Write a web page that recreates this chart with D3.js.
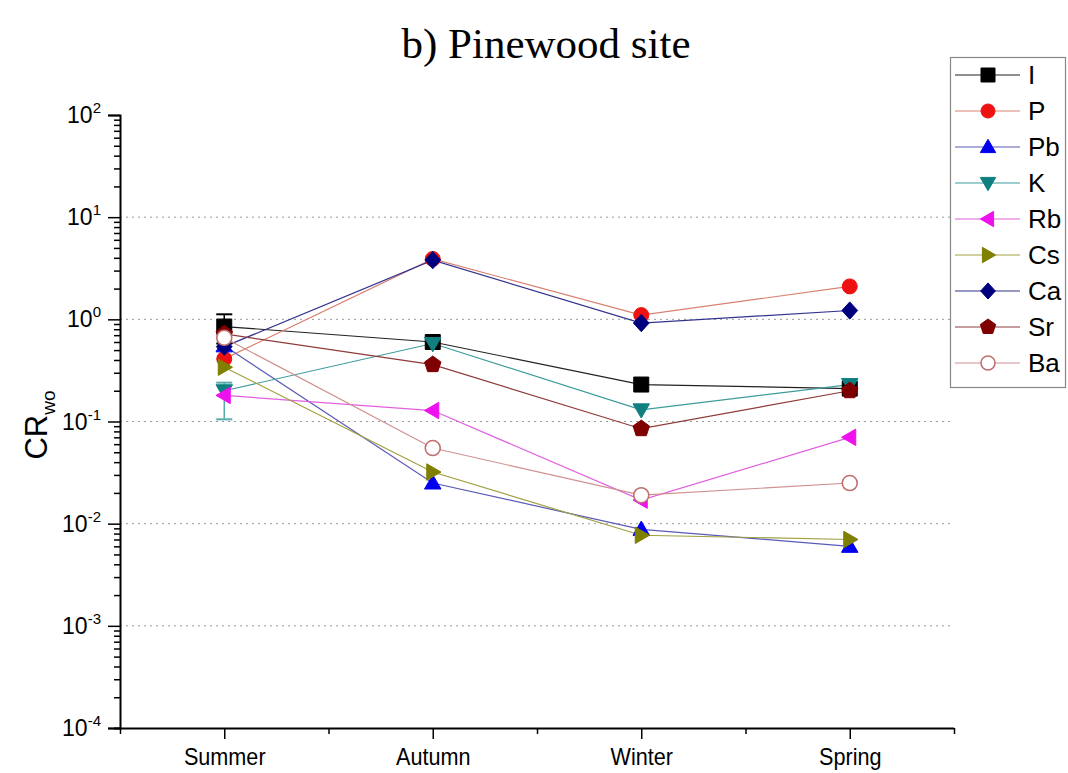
<!DOCTYPE html>
<html>
<head>
<meta charset="utf-8">
<script src="https://cdn.jsdelivr.net/npm/d3@7"></script>
<style>
  body { margin: 0; background: #fff; }
  svg { display: block; }
</style>
</head>
<body>
<svg id="chart" width="1068" height="773"></svg>
<script>
// ---- data ----
const seasons = ["Summer", "Autumn", "Winter", "Spring"];
const elements = ["I", "P", "Pb", "K", "Rb", "Cs", "Ca", "Sr", "Ba"];
const I_vals  = [0.85, 0.60, 0.23, 0.21];
const P_vals  = [0.41, 3.9, 1.1, 2.1];
const Pb_vals = [0.55, 0.025, 0.0088, 0.006];
const K_vals  = [0.20, 0.58, 0.13, 0.23];
const Rb_vals = [0.18, 0.128, 0.017, 0.07];
const Cs_vals = [0.34, 0.032, 0.0077, 0.007];
const Ca_vals = [0.54, 3.8, 0.92, 1.22];
const Sr_vals = [0.72, 0.36, 0.085, 0.20];
const Ba_vals = [0.66, 0.055, 0.019, 0.025];
// error bars (lower, upper) for summer points
const I_err = [[0.58, 1.12], null, null, null];
const K_err = [[0.105, 0.24], null, null, null];
const yTickExps = [-4, -3, -2, -1, 0, 1, 2];
const gridExps = [-3, -2, -1, 0, 1];

const seriesVals = [I_vals, P_vals, Pb_vals, K_vals, Rb_vals, Cs_vals, Ca_vals, Sr_vals, Ba_vals];
const seriesErr = {I: I_err, K: K_err};

const styles = {
  I:  {color: "#000000", line: "#222222", shape: "square", fill: true},
  P:  {color: "#ee1111", line: "#d98070", shape: "circle", fill: true},
  Pb: {color: "#0000ee", line: "#5a5ab8", shape: "triUp", fill: true},
  K:  {color: "#0f7f7f", line: "#3c9c9c", shape: "triDown", fill: true},
  Rb: {color: "#ee11ee", line: "#e060e0", shape: "triLeft", fill: true},
  Cs: {color: "#7f7f00", line: "#a0a040", shape: "triRight", fill: true},
  Ca: {color: "#00007f", line: "#33338f", shape: "diamond", fill: true},
  Sr: {color: "#7f0000", line: "#8f3a3a", shape: "pentagon", fill: true},
  Ba: {color: "#c07070", line: "#d09090", shape: "circle", fill: false}
};

// ---- layout ----
const svg = d3.select("#chart");
const pLeft = 120, pRight = 954, pTop = 115, pBottom = 728;

const x = d3.scaleLinear().domain([0.5, 4.5]).range([pLeft, pRight]);
const y = d3.scaleLog().domain([1e-4, 1e2]).range([pBottom, pTop]);

// title
svg.append("text")
  .attr("x", 546).attr("y", 58)
  .attr("text-anchor", "middle")
  .attr("font-family", "Liberation Serif, Times New Roman, serif")
  .attr("font-size", 43)
  .text("b) Pinewood site");

// gridlines
svg.append("g").selectAll("line").data(gridExps).join("line")
  .attr("x1", pLeft).attr("x2", pRight)
  .attr("y1", d => y(Math.pow(10, d))).attr("y2", d => y(Math.pow(10, d)))
  .attr("stroke", "#9a9a9a").attr("stroke-width", 1)
  .attr("stroke-dasharray", "2,4");

// y axis: minor ticks
const minorY = [];
for (let e = -4; e < 2; e++) for (let m = 2; m <= 9; m++) minorY.push(m * Math.pow(10, e));
const yAxisMinor = d3.axisLeft(y).tickValues(minorY).tickSize(6).tickFormat("");
const yAxisMajor = d3.axisLeft(y).tickValues(yTickExps.map(e => Math.pow(10, e))).tickSize(12).tickFormat("");
const gyMinor = svg.append("g").attr("transform", `translate(${pLeft},0)`).call(yAxisMinor);
const gy = svg.append("g").attr("transform", `translate(${pLeft},0)`).call(yAxisMajor);
[gyMinor, gy].forEach(g => {
  g.select(".domain").attr("stroke", "#000").attr("stroke-width", 2);
  g.selectAll(".tick line").attr("stroke", "#000").attr("stroke-width", 1.5);
});
gyMinor.select(".domain").remove();

// y tick labels with superscript
const yl = svg.append("g");
yTickExps.forEach(e => {
  const t = yl.append("text")
    .attr("x", 101).attr("y", y(Math.pow(10, e)) + 8)
    .attr("text-anchor", "end")
    .attr("font-family", "Liberation Sans, Arial, sans-serif")
    .attr("font-size", 23);
  t.append("tspan").text("10");
  t.append("tspan").attr("dy", -10).attr("font-size", 15).text(String(e));
});

// y axis label
const ylab = svg.append("text")
  .attr("transform", "translate(47,425) rotate(-90)")
  .attr("text-anchor", "middle")
  .attr("font-family", "Liberation Sans, Arial, sans-serif")
  .attr("font-size", 31);
ylab.append("tspan").text("CR");
ylab.append("tspan").attr("dy", 8).attr("font-size", 19).text("wo");

// x axis
const xAxisMinor = d3.axisBottom(x).tickValues([0.5, 1.5, 2.5, 3.5, 4.5]).tickSize(6).tickFormat("");
const xAxisMajor = d3.axisBottom(x).tickValues([1, 2, 3, 4]).tickSize(11).tickFormat(d => seasons[d - 1]).tickPadding(10);
const gxMinor = svg.append("g").attr("transform", `translate(0,${pBottom})`).call(xAxisMinor);
const gx = svg.append("g").attr("transform", `translate(0,${pBottom})`).call(xAxisMajor);
[gxMinor, gx].forEach(g => {
  g.select(".domain").attr("stroke", "#000").attr("stroke-width", 2);
  g.selectAll(".tick line").attr("stroke", "#000").attr("stroke-width", 1.5);
});
gxMinor.select(".domain").remove();
gx.select(".domain").attr("d", `M${pLeft - 6},0.5H${pRight}`);
gx.selectAll(".tick text")
  .attr("font-family", "Liberation Sans, Arial, sans-serif")
  .attr("font-size", 23).attr("fill", "#000")
  .attr("transform", "scale(0.94,1)");

// marker shapes
function markerPath(shape, s) {
  const r = s / 2;
  switch (shape) {
    case "square": return `M${-r},${-r}H${r}V${r}H${-r}Z`;
    case "diamond": return `M0,${-r * 1.15}L${r * 1.05},0L0,${r * 1.15}L${-r * 1.05},0Z`;
    case "triUp": return `M0,${-r * 1.1}L${r * 1.1},${r * 0.8}L${-r * 1.1},${r * 0.8}Z`;
    case "triDown": return `M0,${r * 1.1}L${r * 1.1},${-r * 0.8}L${-r * 1.1},${-r * 0.8}Z`;
    case "triLeft": return `M${-r * 1.1},0L${r * 0.8},${-r * 1.1}L${r * 0.8},${r * 1.1}Z`;
    case "triRight": return `M${r * 1.1},0L${-r * 0.8},${-r * 1.1}L${-r * 0.8},${r * 1.1}Z`;
    case "pentagon": {
      const pts = d3.range(5).map(i => {
        const a = -Math.PI / 2 + i * 2 * Math.PI / 5;
        return [Math.cos(a) * r * 1.15, Math.sin(a) * r * 1.15];
      });
      return "M" + pts.map(p => p.join(",")).join("L") + "Z";
    }
    case "circle":
    default:
      return d3.symbol(d3.symbolCircle, Math.PI * r * r)();
  }
}
function drawMarker(g, name, cx, cy, size) {
  const st = styles[name];
  g.append("path")
    .attr("d", markerPath(st.shape, size))
    .attr("transform", `translate(${cx},${cy})`)
    .attr("fill", st.fill ? st.color : "#fff")
    .attr("stroke", st.color)
    .attr("stroke-width", st.fill ? 1 : 1.6);
}

const line = d3.line().x((d, i) => x(i + 1)).y(d => y(d));

// lines
const gLines = svg.append("g");
elements.forEach((name, k) => {
  gLines.append("path")
    .attr("d", line(seriesVals[k]))
    .attr("fill", "none")
    .attr("stroke", styles[name].line)
    .attr("stroke-width", 1.2);
});

// error bars
const gErr = svg.append("g");
Object.keys(seriesErr).forEach(name => {
  seriesErr[name].forEach((e, i) => {
    if (!e) return;
    const cx = x(i + 1);
    const c = name === "K" ? "#5aabab" : styles[name].color;
    gErr.append("line").attr("x1", cx).attr("x2", cx).attr("y1", y(e[0])).attr("y2", y(e[1]))
      .attr("stroke", c).attr("stroke-width", 1.5);
    [e[0], e[1]].forEach(v => {
      gErr.append("line").attr("x1", cx - 8).attr("x2", cx + 8).attr("y1", y(v)).attr("y2", y(v))
        .attr("stroke", c).attr("stroke-width", 2);
    });
  });
});

// markers
const gMarks = svg.append("g");
elements.forEach((name, k) => {
  seriesVals[k].forEach((v, i) => drawMarker(gMarks, name, x(i + 1), y(v), 15));
});

// legend
const lg = svg.append("g");
const lgTop = 57, lgStep = 36;
lg.append("rect")
  .attr("x", 950.5).attr("y", lgTop + 0.5)
  .attr("width", 115).attr("height", lgStep * elements.length + 6)
  .attr("fill", "#fff").attr("stroke", "#888").attr("stroke-width", 1.2);
elements.forEach((name, k) => {
  const cy = lgTop + 18 + k * lgStep;
  lg.append("line").attr("x1", 955).attr("x2", 1020).attr("y1", cy).attr("y2", cy)
    .attr("stroke", styles[name].line).attr("stroke-width", 1.2);
  drawMarker(lg, name, 988, cy, 14);
  lg.append("text")
    .attr("x", 1028).attr("y", cy + 9)
    .attr("font-family", "Liberation Sans, Arial, sans-serif")
    .attr("font-size", 26)
    .text(name);
});
</script>
</body>
</html>
